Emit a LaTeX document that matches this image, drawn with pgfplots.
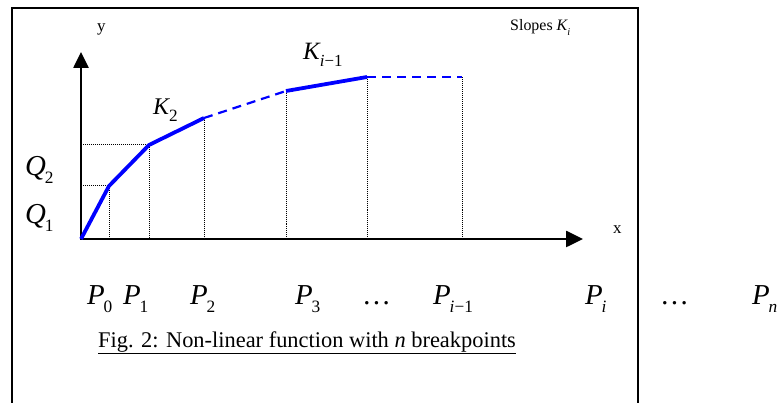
\documentclass[border=0pt]{standalone}
\usepackage{fontspec}
\setmainfont{Liberation Serif}
\usepackage{graphicx}
\usepackage{pgfplots}
\pgfplotsset{compat=1.18}
\usetikzlibrary{arrows.meta}
\definecolor{lineblue}{RGB}{0,0,255}
\newcommand{\sub}[3][0.6]{\textit{#2}\kern-0.04em\raisebox{-0.27em}{\scalebox{#1}{#3}}}
\newcommand{\fs}[1]{\fontsize{#1}{#1}\selectfont}
\begin{document}
\begin{tikzpicture}
\begin{axis}[name=ax, at={(0,0)}, anchor=south west,
  scale only axis, width=778bp, height=403bp,
  xmin=0, xmax=778, ymin=0, ymax=403,
  hide axis, clip=false]
% frame
\addplot[black, line width=2pt] coordinates {(12,-20) (12,395) (638,395) (638,-20)};
% dotted guides
\addplot[black, densely dotted, line width=1pt] coordinates {(109,217) (109,164)};
\addplot[black, densely dotted, line width=1pt] coordinates {(149,258) (149,164)};
\addplot[black, densely dotted, line width=1pt] coordinates {(204,285) (204,164)};
\addplot[black, densely dotted, line width=1pt] coordinates {(286,312) (286,164)};
\addplot[black, densely dotted, line width=1pt] coordinates {(367,326) (367,164)};
\addplot[black, densely dotted, line width=1pt] coordinates {(462,326) (462,164)};
\addplot[black, densely dotted, line width=1pt] coordinates {(83,217) (109,217)};
\addplot[black, densely dotted, line width=1pt] coordinates {(83,258) (149,258)};
% axes
\addplot[black, line width=2.6pt, -{Triangle[length=16bp,width=15bp]}] coordinates {(81,164) (81,351)};
\addplot[black, line width=2.6pt, -{Triangle[length=17bp,width=16bp]}] coordinates {(80,164) (583,164)};
% function
\addplot[lineblue, line width=3.8pt, line join=round] coordinates {(81,164) (109,217) (149,258) (204,285)};
\addplot[lineblue, line width=2.2pt, dash pattern=on 9bp off 6bp] coordinates {(204,285) (286,312)};
\addplot[lineblue, line width=3.8pt] coordinates {(286,312) (367,326)};
\addplot[lineblue, line width=2.2pt, dash pattern=on 9bp off 6bp] coordinates {(367,326) (462,326)};
% labels
\begin{scope}[every node/.style={inner sep=0pt, anchor=base west}]
\node at (axis cs:97,371) {\fs{17}y};
\node at (axis cs:613,169) {\fs{17}x};
\node at (axis cs:510,372) {\fs{16}Slopes \sub[0.65]{K}{\textit{i}}};
\node at (axis cs:153,288) {\fs{24}\sub[0.72]{K}{2}};
\node at (axis cs:303,343) {\fs{25}\sub[0.68]{K}{\textit{i}−1}};
\node at (axis cs:25,227) {\fs{29}\sub{Q}{2}};
\node at (axis cs:25,179) {\fs{29}\sub{Q}{1}};
\node at (axis cs:87,98) {\fs{29}\sub{P}{0}};
\node at (axis cs:123,98) {\fs{29}\sub{P}{1}};
\node at (axis cs:190,98) {\fs{29}\sub{P}{2}};
\node at (axis cs:295,98) {\fs{29}\sub{P}{3}};
\node at (axis cs:362,98) {\fs{29}…};
\node at (axis cs:433,98) {\fs{29}\sub{P}{\textit{i}−1}};
\node at (axis cs:585,98) {\fs{29}\sub{P}{\textit{i}}};
\node at (axis cs:660,98) {\fs{29}…};
\node at (axis cs:752,98) {\fs{29}\sub{P}{\textit{n}}};
\node at (axis cs:98,56) {\fs{22.5}\underline{Fig. 2: Non-linear function with \textit{n} breakpoints}};
\end{scope}
\end{axis}
\pgfresetboundingbox
\path[use as bounding box] (ax.south west) rectangle (ax.north east);
\end{tikzpicture}
\end{document}
